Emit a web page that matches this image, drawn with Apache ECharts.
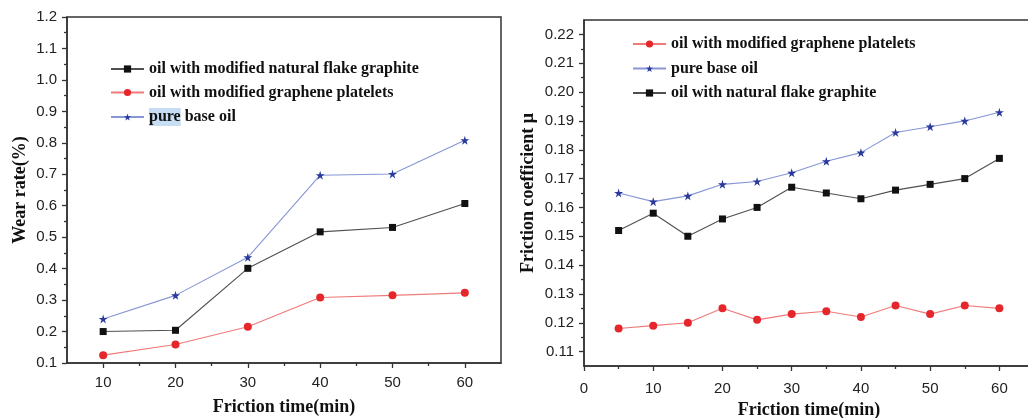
<!DOCTYPE html>
<html>
<head>
<meta charset="utf-8">
<script src="https://cdn.jsdelivr.net/npm/echarts@6/dist/echarts.min.js"></script>
<style>
  html, body { margin: 0; padding: 0; background: #fff; }
  #chart { width: 1028px; height: 418px; }
</style>
</head>
<body>
<div id="chart"></div>
<script>
// Wear rate (%) against friction time (min)
const wearTimes = [10, 20, 30, 40, 50, 60];
const wearGraphite = [0.200, 0.204, 0.401, 0.517, 0.531, 0.607];
const wearGraphene = [0.125, 0.159, 0.215, 0.308, 0.315, 0.323];
const wearBaseOil = [0.240, 0.315, 0.436, 0.697, 0.701, 0.808];

// Friction coefficient against friction time (min)
const frictionTimes = [5, 10, 15, 20, 25, 30, 35, 40, 45, 50, 55, 60];
const frictionGraphene = [0.118, 0.119, 0.120, 0.125, 0.121, 0.123, 0.124, 0.122, 0.126, 0.123, 0.126, 0.125];
const frictionBaseOil = [0.165, 0.162, 0.164, 0.168, 0.169, 0.172, 0.176, 0.179, 0.186, 0.188, 0.190, 0.193];
const frictionGraphite = [0.152, 0.158, 0.150, 0.156, 0.160, 0.167, 0.165, 0.163, 0.166, 0.168, 0.170, 0.177];

// Tick positions
const wearXTicks = [10, 20, 30, 40, 50, 60];
const wearXMinorTicks = [15, 25, 35, 45, 55];
const frictionXTicks = [0, 10, 20, 30, 40, 50, 60];
const frictionXMinorTicks = [5, 15, 25, 35, 45, 55];
const frictionYTicks = [0.11, 0.12, 0.13, 0.14, 0.15, 0.16, 0.17, 0.18, 0.19, 0.20, 0.21, 0.22];
const frictionYMinorTicks = [0.115, 0.125, 0.135, 0.145, 0.155, 0.165, 0.175, 0.185, 0.195, 0.205, 0.215];

// Series names
const NAME_GRAPHITE_MOD = 'oil with modified natural flake graphite';
const NAME_GRAPHITE = 'oil with natural flake graphite';
const NAME_GRAPHENE = 'oil with modified graphene platelets';
const NAME_BASE = 'pure base oil';

const pairs = (xs, ys) => xs.map((x, i) => [x, ys[i]]);

const AXIS_COLOR = '#333';
const SANS = '"Liberation Sans", Arial, sans-serif';
const SERIF = '"Liberation Serif", "Times New Roman", serif';
const STAR = 'path://M50,0 L61.2,34.5 L97.6,34.5 L68.2,55.9 L79.4,90.5 L50,69.1 L20.6,90.5 L31.8,55.9 L2.4,34.5 L38.8,34.5 Z';

const styles = {
  graphite: { line: '#505050', mark: '#111111', symbol: 'rect', size: 7 },
  graphene: { line: '#f07a7a', mark: '#e5262b', symbol: 'circle', size: 8 },
  base: { line: '#8796d6', mark: '#2a3a9c', symbol: STAR, size: 9 }
};

function lineSeries(name, data, st, gridIdx) {
  return {
    type: 'line', name, data,
    xAxisIndex: gridIdx * 2, yAxisIndex: gridIdx * 2,
    symbol: st.symbol, symbolSize: st.size,
    lineStyle: { color: st.line, width: 1.1 },
    itemStyle: { color: st.mark, borderWidth: 0 },
    emphasis: { disabled: true },
    animation: false, z: 3
  };
}

const tickLabel = { fontSize: 15, color: '#222', fontFamily: SANS };
const axisLine = { show: true, lineStyle: { color: AXIS_COLOR, width: 1.5 } };
const nameStyle = { fontSize: 18, fontWeight: 'bold', fontFamily: SERIF, color: '#111' };
const legendText = { fontSize: 16, fontWeight: 'bold', fontFamily: SERIF, color: '#111' };

const option = {
  backgroundColor: '#fff',
  animation: false,
  grid: [
    { left: 67, top: 17, width: 434, height: 346, outerBoundsMode: 'none', containLabel: false,
      show: true, borderColor: AXIS_COLOR, borderWidth: 1.5, backgroundColor: 'transparent' },
    { left: 584, top: 20, width: 450, height: 346, outerBoundsMode: 'none', containLabel: false,
      show: true, borderColor: AXIS_COLOR, borderWidth: 1.5, backgroundColor: 'transparent' }
  ],
  legend: [
    {
      orient: 'vertical', left: 105, top: 56, itemWidth: 33, itemHeight: 9, itemGap: 7.5,
      data: [NAME_GRAPHITE_MOD, NAME_GRAPHENE, NAME_BASE],
      textStyle: Object.assign({}, legendText, {
        rich: {
          hl: Object.assign({}, legendText, { backgroundColor: '#c7ddf3', padding: [1, 0, 1, 0] }),
          n: Object.assign({}, legendText)
        }
      }),
      formatter: name => name === NAME_BASE ? '{hl|pure}{n| base oil}' : name,
      selectedMode: false
    },
    {
      orient: 'vertical', left: 627, top: 31, itemWidth: 33, itemHeight: 9, itemGap: 8.5,
      data: [NAME_GRAPHENE, NAME_BASE, NAME_GRAPHITE],
      textStyle: legendText,
      selectedMode: false
    }
  ],
  xAxis: [
    {
      type: 'value', gridIndex: 0, min: 5, max: 65, position: 'bottom',
      axisLine, splitLine: { show: false },
      axisTick: { show: true, customValues: wearXTicks, length: 5, lineStyle: { color: AXIS_COLOR, width: 1.3 } },
      axisLabel: Object.assign({ customValues: wearXTicks, margin: 12 }, tickLabel),
      name: 'Friction time(min)', nameLocation: 'middle', nameGap: 35, nameTextStyle: nameStyle
    },
    {
      type: 'value', gridIndex: 0, min: 5, max: 65, position: 'bottom',
      axisLine: { show: false }, splitLine: { show: false }, axisLabel: { show: false },
      axisTick: { show: true, customValues: wearXMinorTicks, length: 3, lineStyle: { color: AXIS_COLOR, width: 1.3 } }
    },
    {
      type: 'value', gridIndex: 1, min: 0, max: 65, position: 'bottom',
      axisLine, splitLine: { show: false },
      axisTick: { show: true, customValues: frictionXTicks, length: 5, lineStyle: { color: AXIS_COLOR, width: 1.3 } },
      axisLabel: Object.assign({ customValues: frictionXTicks, margin: 15 }, tickLabel),
      name: 'Friction time(min)', nameLocation: 'middle', nameGap: 32, nameTextStyle: nameStyle
    },
    {
      type: 'value', gridIndex: 1, min: 0, max: 65, position: 'bottom',
      axisLine: { show: false }, splitLine: { show: false }, axisLabel: { show: false },
      axisTick: { show: true, customValues: frictionXMinorTicks, length: 3, lineStyle: { color: AXIS_COLOR, width: 1.3 } }
    }
  ],
  yAxis: [
    {
      type: 'value', gridIndex: 0, min: 0.1, max: 1.2, interval: 0.1, position: 'left',
      axisLine, splitLine: { show: false },
      axisTick: { show: true, length: 5, lineStyle: { color: AXIS_COLOR, width: 1.3 } },
      minorTick: { show: true, splitNumber: 2, length: 3, lineStyle: { color: AXIS_COLOR, width: 1.3 } },
      axisLabel: Object.assign({ margin: 10, formatter: v => v.toFixed(1) }, tickLabel),
      name: 'Wear rate(%)', nameLocation: 'middle', nameGap: 38, nameTextStyle: nameStyle
    },
    {
      type: 'value', gridIndex: 0, min: 0.1, max: 1.2, position: 'left', show: false
    },
    {
      type: 'value', gridIndex: 1, min: 0.105, max: 0.225, position: 'left',
      axisLine, splitLine: { show: false },
      axisTick: { show: true, customValues: frictionYTicks, length: 5, lineStyle: { color: AXIS_COLOR, width: 1.3 } },
      axisLabel: Object.assign({ customValues: frictionYTicks, margin: 10, formatter: v => v.toFixed(2) }, tickLabel),
      name: 'Friction coefficient \u03bc', nameLocation: 'middle', nameGap: 47, nameTextStyle: nameStyle
    },
    {
      type: 'value', gridIndex: 1, min: 0.105, max: 0.225, position: 'left',
      axisLine: { show: false }, splitLine: { show: false }, axisLabel: { show: false },
      axisTick: { show: true, customValues: frictionYMinorTicks, length: 3, lineStyle: { color: AXIS_COLOR, width: 1.3 } }
    }
  ],
  series: [
    lineSeries(NAME_GRAPHITE_MOD, pairs(wearTimes, wearGraphite), styles.graphite, 0),
    lineSeries(NAME_GRAPHENE, pairs(wearTimes, wearGraphene), styles.graphene, 0),
    lineSeries(NAME_BASE, pairs(wearTimes, wearBaseOil), styles.base, 0),
    lineSeries(NAME_GRAPHENE, pairs(frictionTimes, frictionGraphene), styles.graphene, 1),
    lineSeries(NAME_BASE, pairs(frictionTimes, frictionBaseOil), styles.base, 1),
    lineSeries(NAME_GRAPHITE, pairs(frictionTimes, frictionGraphite), styles.graphite, 1)
  ]
};

const chart = echarts.init(document.getElementById('chart'), null, { renderer: 'canvas' });
chart.setOption(option);
</script>
</body>
</html>
